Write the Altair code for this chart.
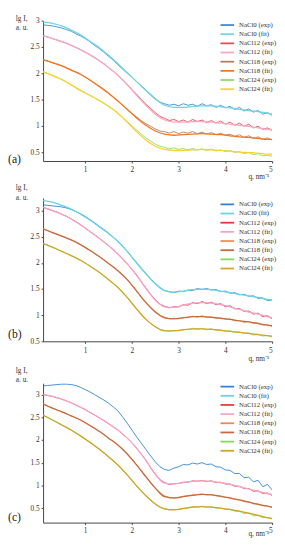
import altair as alt
import pandas as pd

LABELS = ["NaCl0 (exp)", "NaCl0 (fit)", "NaCl12 (exp)", "NaCl12 (fit)",
          "NaCl18 (exp)", "NaCl18 (fit)", "NaCl24 (exp)", "NaCl24 (fit)"]

Q_EXP = [0.1, 0.2, 0.3, 0.4, 0.5, 0.6, 0.7, 0.8, 0.9, 1.0,
         1.1, 1.2, 1.3, 1.4, 1.5, 1.6, 1.7, 1.8, 1.9, 2.0,
         2.1, 2.2, 2.3, 2.4, 2.5, 2.6, 2.7, 2.8, 2.9, 3.0,
         3.1, 3.2, 3.3, 3.4, 3.5, 3.6, 3.7, 3.8, 3.9, 4.0,
         4.1, 4.2, 4.3, 4.4, 4.5, 4.6, 4.7, 4.8, 4.9, 5.0]
Q_FIT = [0.1, 0.3, 0.5, 0.7, 0.9, 1.1, 1.3, 1.5, 1.7, 1.9, 2.1, 2.3, 2.5,
         2.7, 2.9, 3.1, 3.3, 3.5, 3.7, 3.9, 4.1, 4.3, 4.5, 4.7, 4.9, 5.0]

# ---------------- panel (a) ----------------
A_EXP = {
    "NaCl0 (exp)": [2.92, 2.91, 2.90, 2.88, 2.86, 2.83, 2.80, 2.75, 2.71, 2.66,
                    2.60, 2.53, 2.47, 2.40, 2.32, 2.25, 2.16, 2.08, 2.00, 1.93,
                    1.84, 1.76, 1.68, 1.60, 1.52, 1.45, 1.42, 1.39, 1.41, 1.38,
                    1.42, 1.39, 1.41, 1.37, 1.42, 1.38, 1.40, 1.35, 1.39, 1.34,
                    1.37, 1.31, 1.35, 1.28, 1.32, 1.26, 1.29, 1.22, 1.25, 1.20],
    "NaCl12 (exp)": [2.71, 2.69, 2.66, 2.63, 2.60, 2.57, 2.53, 2.49, 2.45, 2.40,
                     2.35, 2.30, 2.24, 2.18, 2.11, 2.04, 1.96, 1.88, 1.79, 1.69,
                     1.60, 1.50, 1.41, 1.33, 1.25, 1.18, 1.14, 1.10, 1.12, 1.08,
                     1.11, 1.07, 1.12, 1.08, 1.11, 1.06, 1.10, 1.05, 1.09, 1.03,
                     1.07, 1.01, 1.05, 0.99, 1.03, 0.96, 0.99, 0.93, 0.96, 0.91],
    "NaCl18 (exp)": [2.25, 2.23, 2.20, 2.17, 2.14, 2.10, 2.06, 2.02, 1.98, 1.93,
                     1.87, 1.81, 1.75, 1.69, 1.62, 1.55, 1.47, 1.39, 1.32, 1.24,
                     1.17, 1.10, 1.04, 0.99, 0.94, 0.90, 0.89, 0.86, 0.89, 0.85,
                     0.88, 0.86, 0.89, 0.85, 0.88, 0.84, 0.87, 0.83, 0.86, 0.82,
                     0.84, 0.80, 0.83, 0.78, 0.81, 0.76, 0.79, 0.74, 0.77, 0.73],
    "NaCl24 (exp)": [2.02, 1.99, 1.96, 1.92, 1.88, 1.83, 1.78, 1.73, 1.68, 1.63,
                     1.58, 1.53, 1.48, 1.43, 1.37, 1.31, 1.24, 1.16, 1.08, 1.00,
                     0.92, 0.84, 0.77, 0.71, 0.65, 0.61, 0.59, 0.56, 0.58, 0.55,
                     0.57, 0.54, 0.57, 0.54, 0.56, 0.53, 0.56, 0.52, 0.54, 0.51,
                     0.53, 0.49, 0.51, 0.47, 0.49, 0.45, 0.47, 0.43, 0.44, 0.42],
}
A_FIT = {
    "NaCl0 (fit)": [2.97, 2.95, 2.90, 2.82, 2.73, 2.61, 2.49, 2.34, 2.18, 2.01, 1.84, 1.67, 1.51,
                    1.39, 1.35, 1.35, 1.37, 1.38, 1.38, 1.36, 1.34, 1.31, 1.29, 1.27, 1.24, 1.22],
    "NaCl12 (fit)": [2.71, 2.66, 2.60, 2.53, 2.45, 2.35, 2.24, 2.11, 1.96, 1.78, 1.58, 1.39, 1.22,
                     1.11, 1.07, 1.07, 1.08, 1.08, 1.07, 1.05, 1.03, 1.01, 0.99, 0.96, 0.93, 0.92],
    "NaCl18 (fit)": [2.26, 2.20, 2.14, 2.06, 1.98, 1.87, 1.75, 1.62, 1.47, 1.31, 1.15, 1.01, 0.90,
                     0.84, 0.82, 0.83, 0.84, 0.85, 0.84, 0.83, 0.81, 0.79, 0.78, 0.76, 0.74, 0.74],
    "NaCl24 (fit)": [2.03, 1.96, 1.88, 1.78, 1.67, 1.58, 1.48, 1.37, 1.24, 1.07, 0.89, 0.73, 0.61,
                     0.55, 0.53, 0.53, 0.54, 0.55, 0.54, 0.53, 0.52, 0.50, 0.49, 0.48, 0.46, 0.46],
}
A_COLORS = ["#3a88d6", "#6fd4e4", "#f0464c", "#f6a9c6",
            "#b97a5c", "#f5761f", "#8fdc6a", "#f8d42a"]

# ---------------- panel (b) ----------------
B_EXP = {
    "NaCl0 (exp)": [3.11, 3.10, 3.09, 3.08, 3.07, 3.05, 3.02, 2.98, 2.94, 2.89,
                    2.83, 2.77, 2.70, 2.64, 2.57, 2.49, 2.41, 2.32, 2.22, 2.11,
                    2.01, 1.90, 1.80, 1.70, 1.61, 1.53, 1.47, 1.45, 1.43, 1.46,
                    1.45, 1.48, 1.47, 1.51, 1.49, 1.51, 1.48, 1.49, 1.45, 1.46,
                    1.42, 1.43, 1.39, 1.40, 1.36, 1.37, 1.32, 1.33, 1.28, 1.29],
    "NaCl12 (exp)": [3.06, 3.03, 3.00, 2.97, 2.93, 2.89, 2.84, 2.79, 2.73, 2.67,
                     2.60, 2.54, 2.47, 2.40, 2.33, 2.25, 2.17, 2.08, 1.98, 1.88,
                     1.77, 1.64, 1.52, 1.40, 1.30, 1.21, 1.17, 1.14, 1.16, 1.16,
                     1.20, 1.19, 1.24, 1.22, 1.26, 1.22, 1.25, 1.20, 1.22, 1.16,
                     1.18, 1.12, 1.13, 1.07, 1.08, 1.02, 1.04, 0.97, 0.99, 0.93],
    "NaCl18 (exp)": [2.65, 2.62, 2.58, 2.55, 2.51, 2.48, 2.44, 2.40, 2.35, 2.30,
                     2.24, 2.18, 2.12, 2.06, 1.99, 1.92, 1.85, 1.77, 1.68, 1.58,
                     1.47, 1.35, 1.25, 1.15, 1.07, 1.00, 0.96, 0.93, 0.94, 0.93,
                     0.96, 0.95, 0.98, 0.96, 0.99, 0.96, 0.97, 0.94, 0.95, 0.92,
                     0.93, 0.89, 0.90, 0.86, 0.88, 0.84, 0.85, 0.81, 0.82, 0.78],
    "NaCl24 (exp)": [2.37, 2.34, 2.30, 2.26, 2.22, 2.18, 2.14, 2.10, 2.05, 2.00,
                     1.94, 1.88, 1.82, 1.75, 1.68, 1.61, 1.53, 1.44, 1.34, 1.23,
                     1.12, 1.01, 0.92, 0.84, 0.78, 0.73, 0.71, 0.69, 0.71, 0.70,
                     0.73, 0.72, 0.75, 0.73, 0.75, 0.72, 0.74, 0.71, 0.72, 0.69,
                     0.70, 0.67, 0.68, 0.65, 0.66, 0.62, 0.63, 0.60, 0.61, 0.58],
}
B_FIT = {
    "NaCl0 (fit)": [3.19, 3.16, 3.10, 3.03, 2.93, 2.82, 2.69, 2.56, 2.41, 2.22, 2.00, 1.79, 1.60,
                    1.47, 1.44, 1.46, 1.49, 1.50, 1.49, 1.46, 1.43, 1.40, 1.37, 1.34, 1.30, 1.29],
    "NaCl12 (fit)": [3.06, 3.00, 2.93, 2.84, 2.73, 2.60, 2.47, 2.33, 2.17, 1.98, 1.76, 1.51, 1.29,
                     1.16, 1.15, 1.19, 1.23, 1.24, 1.23, 1.20, 1.16, 1.11, 1.06, 1.02, 0.97, 0.95],
    "NaCl18 (fit)": [2.65, 2.58, 2.51, 2.44, 2.35, 2.24, 2.12, 1.99, 1.85, 1.68, 1.46, 1.24, 1.06,
                     0.95, 0.93, 0.95, 0.97, 0.97, 0.96, 0.94, 0.92, 0.89, 0.87, 0.84, 0.81, 0.80],
    "NaCl24 (fit)": [2.37, 2.30, 2.22, 2.14, 2.05, 1.94, 1.82, 1.68, 1.53, 1.34, 1.12, 0.92, 0.78,
                     0.70, 0.70, 0.72, 0.74, 0.74, 0.73, 0.71, 0.69, 0.67, 0.65, 0.63, 0.61, 0.60],
}
B_COLORS = ["#2f80d8", "#68d4e2", "#f03232", "#f7a3c8",
            "#f58a52", "#c46a3c", "#80e052", "#d2a522"]

# ---------------- panel (c) ----------------
C_EXP = {
    "NaCl0 (exp)": [3.19, 3.20, 3.21, 3.22, 3.23, 3.23, 3.22, 3.20, 3.16, 3.11,
                    3.06, 3.00, 2.94, 2.88, 2.81, 2.73, 2.64, 2.51, 2.37, 2.22,
                    2.07, 1.93, 1.79, 1.65, 1.52, 1.41, 1.35, 1.33, 1.38, 1.41,
                    1.46, 1.45, 1.49, 1.47, 1.50, 1.46, 1.47, 1.41, 1.40, 1.34,
                    1.33, 1.26, 1.26, 1.17, 1.18, 1.08, 1.11, 0.97, 1.02, 0.90],
    "NaCl12 (exp)": [3.00, 2.98, 2.96, 2.93, 2.90, 2.86, 2.82, 2.77, 2.72, 2.67,
                     2.61, 2.55, 2.49, 2.43, 2.36, 2.29, 2.22, 2.13, 2.04, 1.94,
                     1.82, 1.69, 1.55, 1.39, 1.25, 1.13, 1.06, 1.02, 1.04, 1.04,
                     1.07, 1.07, 1.10, 1.09, 1.11, 1.08, 1.10, 1.06, 1.07, 1.03,
                     1.03, 0.98, 0.98, 0.93, 0.93, 0.87, 0.88, 0.82, 0.83, 0.78],
    "NaCl18 (exp)": [2.79, 2.75, 2.70, 2.66, 2.62, 2.58, 2.53, 2.49, 2.44, 2.38,
                     2.32, 2.26, 2.19, 2.12, 2.04, 1.97, 1.89, 1.80, 1.69, 1.58,
                     1.45, 1.32, 1.19, 1.06, 0.94, 0.84, 0.77, 0.73, 0.73, 0.74,
                     0.76, 0.77, 0.79, 0.80, 0.81, 0.79, 0.80, 0.77, 0.77, 0.73,
                     0.73, 0.69, 0.68, 0.64, 0.64, 0.59, 0.59, 0.55, 0.55, 0.51],
    "NaCl24 (exp)": [2.55, 2.49, 2.44, 2.39, 2.33, 2.28, 2.22, 2.16, 2.09, 2.02,
                     1.95, 1.88, 1.80, 1.72, 1.63, 1.54, 1.45, 1.34, 1.23, 1.11,
                     0.99, 0.88, 0.77, 0.67, 0.59, 0.52, 0.48, 0.46, 0.47, 0.47,
                     0.50, 0.50, 0.53, 0.52, 0.54, 0.52, 0.53, 0.50, 0.50, 0.47,
                     0.47, 0.43, 0.43, 0.38, 0.39, 0.33, 0.34, 0.29, 0.29, 0.26],
}
C_FIT = {
    "NaCl12 (fit)": [3.00, 2.96, 2.90, 2.82, 2.72, 2.61, 2.49, 2.36, 2.22, 2.04, 1.82, 1.55, 1.24,
                     1.05, 1.03, 1.06, 1.09, 1.10, 1.09, 1.06, 1.02, 0.97, 0.92, 0.87, 0.82, 0.80],
    "NaCl18 (fit)": [2.79, 2.70, 2.62, 2.53, 2.44, 2.32, 2.19, 2.04, 1.89, 1.69, 1.45, 1.19, 0.94,
                     0.75, 0.72, 0.75, 0.78, 0.80, 0.79, 0.76, 0.72, 0.68, 0.63, 0.58, 0.54, 0.52],
    "NaCl24 (fit)": [2.55, 2.44, 2.33, 2.22, 2.09, 1.95, 1.80, 1.63, 1.45, 1.23, 0.99, 0.77, 0.59,
                     0.48, 0.46, 0.49, 0.52, 0.53, 0.52, 0.50, 0.47, 0.43, 0.39, 0.34, 0.29, 0.27],
}
C_COLORS = ["#2f82da", "#6ad4e2", "#f03434", "#f7a6c8",
            "#f2844e", "#c66a3e", "#7fdc52", "#d0a222"]

Y_TICKS = [0.5, 1.0, 1.5, 2.0, 2.5, 3.0]
Y_TICK_TEXT = ["0.5", "1", "1.5", "2", "2.5", "3"]
X_TICKS = [1, 2, 3, 4, 5]
SERIF = "Liberation Serif"
W = 235

Y_LABEL_EXPR = " : ".join(
    f"abs(datum.value - {v}) < 0.01 ? '{t}'" for v, t in zip(Y_TICKS, Y_TICK_TEXT)
) + " : ''"


def long(qs, d):
    rows = []
    for name, vals in d.items():
        for q, v in zip(qs, vals):
            rows.append({"q": q, "I": v, "series": name})
    return pd.DataFrame(rows)


def panel(exp, fit, colors, ydom, h, letter, leg_y, title_y, letter_y, lab_pad, q_y):
    xs = alt.Scale(domain=[0.1, 5], nice=False, zero=False)
    ys = alt.Scale(domain=ydom, nice=False, zero=False)
    cs = alt.Scale(domain=LABELS, range=colors)
    xax = alt.Axis(values=X_TICKS, format="d", title=None, tickSize=2,
                   labelPadding=lab_pad, grid=False, labelOverlap=False)
    yax = alt.Axis(values=Y_TICKS, labelExpr=Y_LABEL_EXPR, title=None, tickSize=2,
                   labelPadding=2, grid=False, labelOverlap=False, labelFlush=False,
                   labelBound=False)
    leg = alt.Legend(orient="none", legendX=184.5, legendY=leg_y, title=None,
                     symbolType="M-2,0H2", symbolSize=49, symbolStrokeWidth=1.8,
                     labelFont=SERIF, labelFontSize=7, labelColor="#333",
                     labelOffset=7.5, rowPadding=0.4, padding=0)

    e = alt.Chart(long(Q_EXP, exp)).mark_line(strokeWidth=0.9, clip=True).encode(
        x=alt.X("q:Q", scale=xs, axis=xax),
        y=alt.Y("I:Q", scale=ys, axis=yax),
        color=alt.Color("series:N", scale=cs, legend=leg),
        detail="series:N",
    )
    f = alt.Chart(long(Q_FIT, fit)).mark_line(strokeWidth=1.3, interpolate="monotone",
                                               clip=True).encode(
        x=alt.X("q:Q", scale=xs, axis=xax),
        y=alt.Y("I:Q", scale=ys, axis=yax),
        color=alt.Color("series:N", scale=cs, legend=leg),
        detail="series:N",
    )
    one = pd.DataFrame({"k": [0]})
    t1 = alt.Chart(one).mark_text(text="lg I,", font=SERIF, fontSize=7.5, align="left",
                                  baseline="middle", color="#333").encode(
        x=alt.value(-28), y=alt.value(title_y))
    t2 = alt.Chart(one).mark_text(text="a. u.", font=SERIF, fontSize=7.5, align="left",
                                  baseline="middle", color="#333").encode(
        x=alt.value(-28), y=alt.value(title_y + 10))
    tq = alt.Chart(one).mark_text(text="q, nm⁻¹", font=SERIF, fontSize=7.5, align="right",
                                  baseline="middle", color="#333").encode(
        x=alt.value(W - 3), y=alt.value(h + q_y))
    tl = alt.Chart(one).mark_text(text=letter, font=SERIF, fontSize=12, align="left",
                                  baseline="middle", color="#222").encode(
        x=alt.value(-36), y=alt.value(h + letter_y))
    return alt.layer(e, f, t1, t2, tq, tl).resolve_scale(color="shared").properties(
        width=W, height=h)


pa = panel(A_EXP, A_FIT, A_COLORS, [0.33, 3.0], 144, "(a)", 0, -2, -2, 3, 16)
pb = panel(B_EXP, B_FIT, B_COLORS, [0.5, 3.24], 147, "(b)", 2, -10, -7, 3, 18)
pc = panel(C_EXP, C_FIT, C_COLORS, [0.18, 3.25], 143, "(c)", -1, -13, -6, 2, 12)

chart = alt.vconcat(pa, pb, pc, spacing=4).resolve_scale(color="independent").properties(
    padding=0, background="white"
).configure_view(stroke=None).configure_axis(
    domainColor="#444", tickColor="#444", labelFont=SERIF, labelFontSize=7.5,
    labelColor="#333", domainWidth=1, labelOverlap=False
)

chart.save("out.html", embed_options={"renderer": "svg", "actions": False})
